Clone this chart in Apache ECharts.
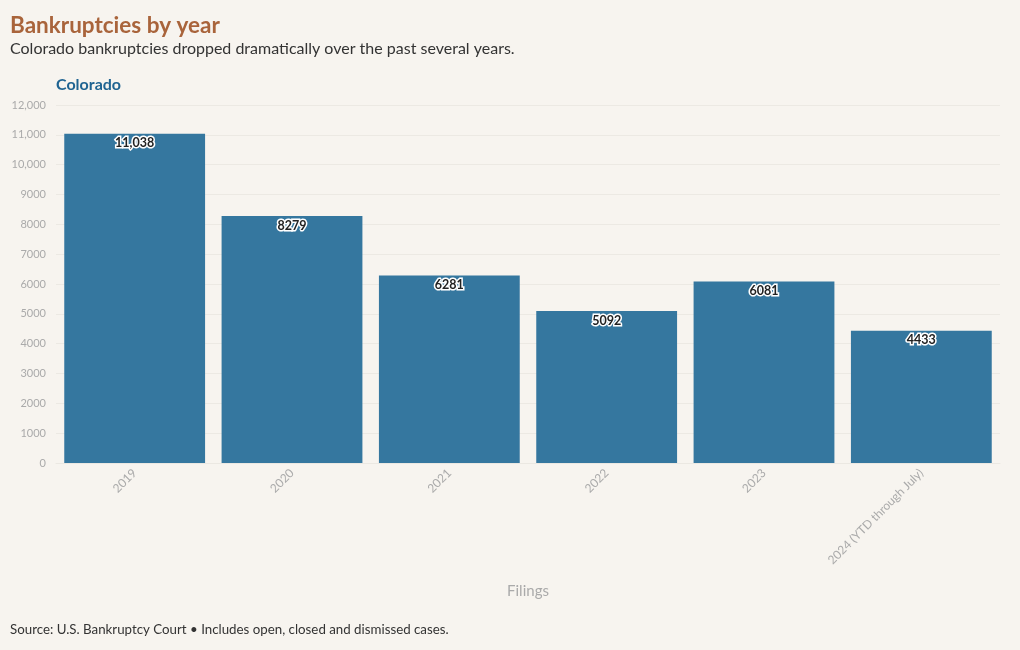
<!DOCTYPE html>
<html>
<head>
<meta charset="utf-8">
<script src="https://cdn.jsdelivr.net/npm/echarts@6/dist/echarts.min.js"></script>
<style>
html,body{margin:0;padding:0;background:#f7f4ef;}
#chart{width:1020px;height:650px;}
</style>
</head>
<body>
<div id="chart"></div>
<script>
const categories = ['2019','2020','2021','2022','2023','2024 (YTD through July)'];
const filings = [11038, 8279, 6281, 5092, 6081, 4433];
const yTicks = { min: 0, max: 12000, interval: 1000 };

const FONT = 'Lato, "Noto Sans", sans-serif';
const chart = echarts.init(document.getElementById('chart'));
chart.setOption({
  backgroundColor: '#f7f4ef',
  textStyle: { fontFamily: FONT },
  title: [
    { text: 'Bankruptcies by year', left: 5, top: 9,
      textStyle: { fontFamily: FONT, fontSize: 22.5, fontWeight: 'bold', color: '#a9643b' } },
    { text: 'Colorado bankruptcies dropped dramatically over the past several years.', left: 5, top: 36,
      textStyle: { fontFamily: FONT, fontSize: 16, fontWeight: 'normal', color: '#333' } },
    { text: 'Colorado', left: 51, top: 72,
      textStyle: { fontFamily: FONT, fontSize: 16, fontWeight: 'bold', color: '#1f6391' } },
    { text: 'Source: U.S. Bankruptcy Court • Includes open, closed and dismissed cases.', left: 5, top: 618,
      textStyle: { fontFamily: FONT, fontSize: 13.3, fontWeight: 'normal', color: '#333' } }
  ],
  grid: { left: 56, right: 20, top: 105, bottom: 187, containLabel: false },
  xAxis: {
    type: 'category',
    data: categories,
    name: 'Filings',
    nameLocation: 'middle',
    nameGap: 121,
    nameTextStyle: { color: '#aaa', fontSize: 15, fontFamily: FONT },
    axisLine: { show: true, lineStyle: { color: '#ebe8e2' } },
    axisTick: { show: false },
    axisLabel: { rotate: 45, color: '#aaa', fontSize: 12, margin: 8, fontFamily: FONT }
  },
  yAxis: {
    type: 'value',
    min: yTicks.min, max: yTicks.max, interval: yTicks.interval,
    axisLine: { show: false },
    axisTick: { show: false },
    splitLine: { lineStyle: { color: '#ece9e3', width: 1 } },
    axisLabel: {
      color: '#aaa', fontSize: 11, margin: 10, fontFamily: FONT,
      formatter: v => v >= 10000 ? v.toLocaleString('en-US') : String(v)
    }
  },
  series: [{
    type: 'bar',
    data: filings,
    barCategoryGap: '10.5%',
    itemStyle: { color: '#35779f' },
    label: {
      show: true,
      position: 'insideTop',
      distance: 3,
      color: '#222',
      fontSize: 12.5,
      fontWeight: 'bold',
      fontFamily: FONT,
      textBorderColor: '#fff',
      textBorderWidth: 3,
      formatter: p => p.value >= 10000 ? p.value.toLocaleString('en-US') : String(p.value)
    }
  }]
});
</script>
</body>
</html>
